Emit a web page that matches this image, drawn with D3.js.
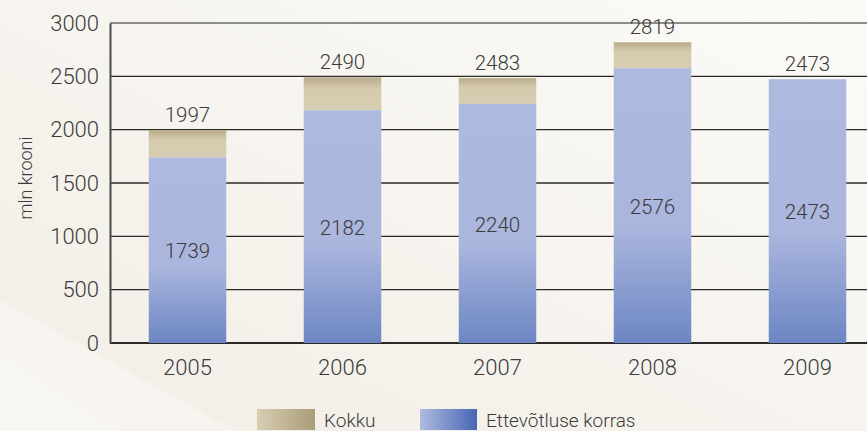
<!DOCTYPE html>
<html>
<head>
<meta charset="utf-8">
<script src="https://cdn.jsdelivr.net/npm/d3@7/dist/d3.min.js"></script>
<style>
  html, body { margin: 0; padding: 0; background: #f5f1ea; }
  svg { display: block; }
  text { font-family: Roboto, Lato, sans-serif; font-weight: 300; fill: #3b3b3b; }
</style>
</head>
<body>
<script>
// Investment volume, million kroons
const years = ["2005", "2006", "2007", "2008", "2009"];
const totalValues = [1997, 2490, 2483, 2819, 2473];        // Kokku
const businessValues = [1739, 2182, 2240, 2576, 2473];     // Ettevõtluse korras
const yTicks = [0, 500, 1000, 1500, 2000, 2500, 3000];
const legendLabels = ["Kokku", "Ettevõtluse korras"];
const yAxisTitle = "mln krooni";

const W = 867, H = 431;
const FONT = "Roboto, Lato, sans-serif";
const svg = d3.select("body").append("svg").attr("width", W).attr("height", H);
const defs = svg.append("defs");

// background wash
const bg = defs.append("linearGradient").attr("id", "bg")
  .attr("x1", 0).attr("y1", 1).attr("x2", 1).attr("y2", 0);
bg.append("stop").attr("offset", 0).attr("stop-color", "#f2eee6");
bg.append("stop").attr("offset", 1).attr("stop-color", "#fbfaf7");
svg.append("rect").attr("width", W).attr("height", H).attr("fill", "url(#bg)");
svg.append("path").attr("d", "M0,300 L0,431 L235,431 Z").attr("fill", "#ffffff").attr("opacity", 0.35);
svg.append("path").attr("d", "M0,350 L0,431 L120,431 Z").attr("fill", "#ffffff").attr("opacity", 0.2);

// bar fills
const gBlue = defs.append("linearGradient").attr("id", "blueFill")
  .attr("x1", 0).attr("y1", 0).attr("x2", 0).attr("y2", 1);
gBlue.append("stop").attr("offset", 0).attr("stop-color", "#adb9df");
gBlue.append("stop").attr("offset", 0.58).attr("stop-color", "#abb6de");
gBlue.append("stop").attr("offset", 1).attr("stop-color", "#6c86c3");

const gBeige = defs.append("linearGradient").attr("id", "beigeFill")
  .attr("x1", 0).attr("y1", 0).attr("x2", 0).attr("y2", 1);
gBeige.append("stop").attr("offset", 0).attr("stop-color", "#b8ab8a");
gBeige.append("stop").attr("offset", 0.35).attr("stop-color", "#d5caae");
gBeige.append("stop").attr("offset", 1).attr("stop-color", "#d7cdb2");

const lBeige = defs.append("linearGradient").attr("id", "legBeige")
  .attr("x1", 0).attr("y1", 0).attr("x2", 1).attr("y2", 0);
lBeige.append("stop").attr("offset", 0).attr("stop-color", "#d8ceb3");
lBeige.append("stop").attr("offset", 1).attr("stop-color", "#aa9c77");

const lBlue = defs.append("linearGradient").attr("id", "legBlue")
  .attr("x1", 0).attr("y1", 0).attr("x2", 1).attr("y2", 0);
lBlue.append("stop").attr("offset", 0).attr("stop-color", "#afbae0");
lBlue.append("stop").attr("offset", 1).attr("stop-color", "#4767b3");

const x = d3.scaleBand().domain(years).range([110, 885]).paddingInner(0.5).paddingOuter(0.25);
const y = d3.scaleLinear().domain([0, 3000]).range([343, 23]);

// gridlines
svg.append("g").selectAll("line").data(yTicks).join("line")
  .attr("x1", 110).attr("x2", W)
  .attr("y1", d => y(d)).attr("y2", d => y(d))
  .attr("stroke", d => d === 3000 ? "#6a6866" : "#2b2a29")
  .attr("stroke-width", d => d === 0 ? 2 : 1.4);

// y axis
const yAxis = svg.append("g").attr("transform", "translate(110,0)")
  .call(d3.axisLeft(y).tickValues(yTicks).tickFormat(d3.format("d")).tickSize(0).tickPadding(11));
yAxis.select(".domain").attr("stroke", "#4a4846").attr("stroke-width", 2);
yAxis.selectAll("text").attr("font-size", 22).attr("fill", "#3b3b3b")
  .attr("font-family", FONT).attr("font-weight", 300);

// x axis labels
const xAxis = svg.append("g").attr("transform", "translate(0,343)")
  .call(d3.axisBottom(x).tickSize(0).tickPadding(16));
xAxis.select(".domain").remove();
xAxis.selectAll("text").attr("font-size", 22).attr("fill", "#3b3b3b")
  .attr("font-family", FONT).attr("font-weight", 300);

// axis title
svg.append("text").attr("transform", "translate(32,178) rotate(-90)")
  .attr("text-anchor", "middle").attr("font-size", 18).text(yAxisTitle);

const rows = years.map((yr, i) => ({ yr, total: totalValues[i], biz: businessValues[i] }));

// total (upper) segments
svg.append("g").selectAll("rect").data(rows.filter(d => d.total > d.biz)).join("rect")
  .attr("x", d => x(d.yr)).attr("width", x.bandwidth())
  .attr("y", d => y(d.total)).attr("height", d => y(d.biz) - y(d.total))
  .attr("fill", "url(#beigeFill)");

// business segments
svg.append("g").selectAll("rect").data(rows).join("rect")
  .attr("x", d => x(d.yr)).attr("width", x.bandwidth())
  .attr("y", d => y(d.biz)).attr("height", d => y(0) - y(d.biz))
  .attr("fill", "url(#blueFill)");

// value labels
svg.append("g").selectAll("text").data(rows).join("text")
  .attr("x", d => x(d.yr) + x.bandwidth() / 2).attr("y", d => y(d.total) - 8)
  .attr("text-anchor", "middle").attr("font-size", 20.5).text(d => d.total);

svg.append("g").selectAll("text").data(rows).join("text")
  .attr("x", d => x(d.yr) + x.bandwidth() / 2)
  .attr("y", d => (y(d.biz) + y(0)) / 2 + 1)
  .attr("dy", "0.35em")
  .attr("text-anchor", "middle").attr("font-size", 20.5).text(d => d.biz);

// legend
const legend = [
  { label: legendLabels[0], fill: "url(#legBeige)", x: 257, w: 58 },
  { label: legendLabels[1], fill: "url(#legBlue)", x: 420, w: 57 }
];
const lg = svg.append("g").selectAll("g").data(legend).join("g");
lg.append("rect").attr("x", d => d.x).attr("y", 409).attr("width", d => d.w).attr("height", 21)
  .attr("fill", d => d.fill);
lg.append("text").attr("x", d => d.x + d.w + 9).attr("y", 427)
  .attr("font-size", 19).text(d => d.label);
</script>
</body>
</html>
